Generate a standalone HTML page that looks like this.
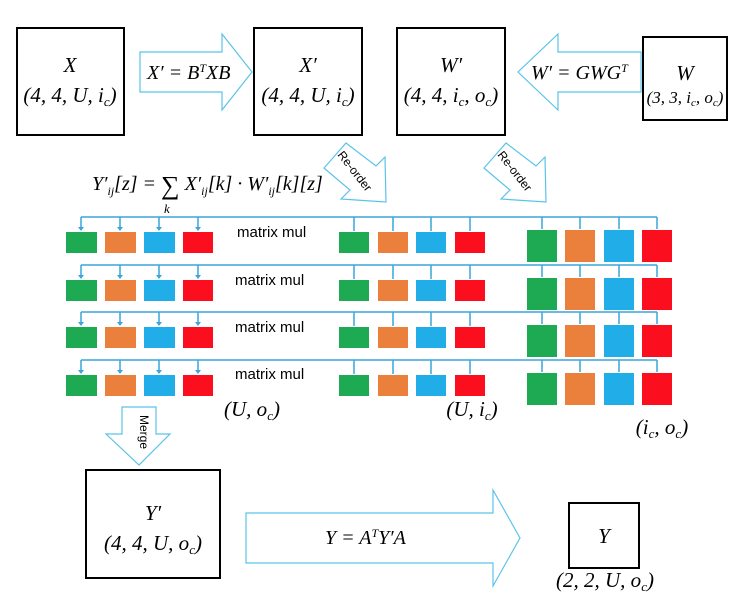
<!DOCTYPE html>
<html><head><meta charset="utf-8"><style>
html,body{margin:0;padding:0;background:#fff;}
svg{display:block;}
.m{font-family:"Liberation Serif",serif;font-style:italic;}
.s{font-family:"Liberation Sans",sans-serif;}
</style></head><body>
<svg width="744" height="598" viewBox="0 0 744 598" xmlns="http://www.w3.org/2000/svg">
<g fill="none" stroke="#000" stroke-width="2">
<rect x="17" y="28" width="107" height="107"/>
<rect x="254" y="28" width="108" height="107"/>
<rect x="397" y="28" width="108" height="107"/>
<rect x="643" y="37" width="84" height="83"/>
<rect x="86" y="470" width="134" height="108"/>
<rect x="569" y="503" width="70" height="65"/>
</g>
<g class="m" text-anchor="middle" font-size="21">
<text x="70" y="72">X</text><text x="70" y="102">(4, 4, U, i<tspan font-size="13" dy="4">c</tspan><tspan dy="-4">)</tspan></text>
<text x="308" y="72">X′</text><text x="308" y="102">(4, 4, U, i<tspan font-size="13" dy="4">c</tspan><tspan dy="-4">)</tspan></text>
<text x="451" y="72">W′</text><text x="451" y="102">(4, 4, i<tspan font-size="13" dy="4">c</tspan><tspan dy="-4">, o</tspan><tspan font-size="13" dy="4">c</tspan><tspan dy="-4">)</tspan></text>
<text x="685" y="80">W</text><text x="685" y="103" font-size="17">(3, 3, i<tspan font-size="11" dy="3">c</tspan><tspan dy="-3">, o</tspan><tspan font-size="11" dy="3">c</tspan><tspan dy="-3">)</tspan></text>
<text x="153" y="520">Y′</text><text x="153" y="550">(4, 4, U, o<tspan font-size="13" dy="4">c</tspan><tspan dy="-4">)</tspan></text>
<text x="604" y="543">Y</text><text x="605" y="587">(2, 2, U, o<tspan font-size="13" dy="4">c</tspan><tspan dy="-4">)</tspan></text>
<text x="252" y="416">(U, o<tspan font-size="13" dy="4">c</tspan><tspan dy="-4">)</tspan></text>
<text x="472" y="416">(U, i<tspan font-size="13" dy="4">c</tspan><tspan dy="-4">)</tspan></text>
<text x="662" y="434">(i<tspan font-size="13" dy="4">c</tspan><tspan dy="-4">, o</tspan><tspan font-size="13" dy="4">c</tspan><tspan dy="-4">)</tspan></text>
</g>
<g fill="#fff" stroke="#5bc3e8" stroke-width="1.2">
<polygon points="140,52 222,52 222,34 252,72 222,110 222,92 140,92"/>
<polygon points="641,52 558,52 558,34 518,72 558,110 558,92 641,92"/>
<polygon points="246,513 493,513 493,490 520,538 493,586 493,563 246,563"/>
<polygon points="122,407 156,407 156,434 170,434 139,465 106,434 122,434"/>
<polygon points="346,143 376,166 385,157 386,202 341,199 350,190 324,168"/>
<polygon points="506,143 536,166 545,157 546,202 501,199 510,190 484,168"/>
</g>
<g class="m" font-size="20">
<text x="147" y="79">X′ = B<tspan font-size="12" dy="-7">T</tspan><tspan dy="7">XB</tspan></text>
<text x="531" y="79">W′ = GWG<tspan font-size="12" dy="-7">T</tspan></text>
<text x="325" y="544">Y = A<tspan font-size="12" dy="-7">T</tspan><tspan dy="7">Y′A</tspan></text>
<text x="92" y="190">Y′<tspan font-size="12" dy="5">ij</tspan><tspan dy="-5">[z] = </tspan><tspan font-style="normal" font-size="26" dy="4">∑</tspan><tspan dy="-4"> X′</tspan><tspan font-size="12" dy="5">ij</tspan><tspan dy="-5">[k] · W′</tspan><tspan font-size="12" dy="5">ij</tspan><tspan dy="-5">[k][z]</tspan></text>
<text x="164" y="213" font-size="13">k</text>
</g>
<g class="s" font-size="12">
<text transform="translate(140,415) rotate(90)">Merge</text>
<text transform="translate(337,155) rotate(52)">Re-order</text>
<text transform="translate(497,155) rotate(52)">Re-order</text>
</g>
<g class="s" font-size="15"><text x="237" y="237">matrix mul</text><text x="235" y="285">matrix mul</text><text x="235" y="332">matrix mul</text><text x="235" y="379">matrix mul</text></g>
<defs>
<g id="row">
<path d="M81 0 H657 M81 0 V10 M120 0 V10 M159 0 V10 M198 0 V10 M354 0 V14 M393 0 V14 M431 0 V14 M470 0 V14 M542 0 V12 M580 0 V12 M619 0 V12 M657 0 V12" stroke="#3aa6dc" stroke-width="1.5" fill="none"/>
<g fill="#3aa6dc"><polygon points="78,10 84,10 81,14"/><polygon points="117,10 123,10 120,14"/><polygon points="156,10 162,10 159,14"/><polygon points="195,10 201,10 198,14"/></g>
<rect x="66" y="15" width="31" height="21" fill="#1eaa52"/><rect x="105" y="15" width="31" height="21" fill="#eb7f3c"/><rect x="144" y="15" width="31" height="21" fill="#21aee8"/><rect x="183" y="15" width="30" height="21" fill="#fb0f1e"/>
<rect x="339" y="15" width="30" height="21" fill="#1eaa52"/><rect x="378" y="15" width="30" height="21" fill="#eb7f3c"/><rect x="416" y="15" width="30" height="21" fill="#21aee8"/><rect x="455" y="15" width="30" height="21" fill="#fb0f1e"/>
<rect x="527" y="13" width="30" height="32" fill="#1eaa52"/><rect x="565" y="13" width="30" height="32" fill="#eb7f3c"/><rect x="604" y="13" width="30" height="32" fill="#21aee8"/><rect x="642" y="13" width="30" height="32" fill="#fb0f1e"/>
</g>
</defs>
<use href="#row" transform="translate(0,217)"/>
<use href="#row" transform="translate(0,265)"/>
<use href="#row" transform="translate(0,312)"/>
<use href="#row" transform="translate(0,360)"/>
</svg>
</body></html>
